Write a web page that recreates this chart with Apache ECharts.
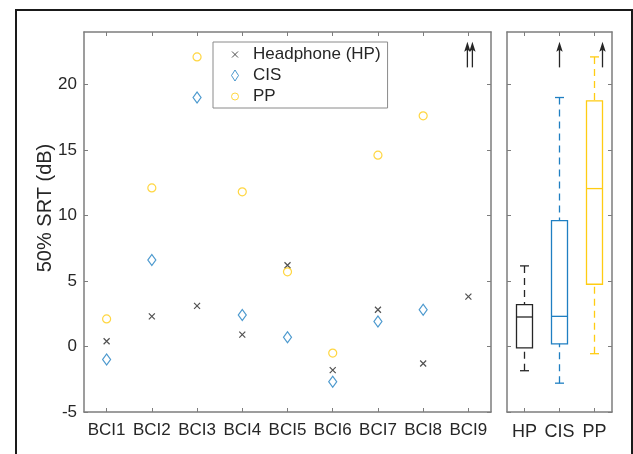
<!DOCTYPE html>
<html><head><meta charset="utf-8">
<script src="https://cdn.jsdelivr.net/npm/echarts@6/dist/echarts.min.js"></script>
<style>html,body{margin:0;padding:0;background:#fff}#c{width:633px;height:454px}</style>
</head><body><div id="c"></div><script>
// ---- data ----
const categories = ['BCI1','BCI2','BCI3','BCI4','BCI5','BCI6','BCI7','BCI8','BCI9'];
const hpValues  = [0.4, 2.3, 3.1, 0.9, 6.2, -1.8, 2.8, -1.3, 3.8];
const cisValues = [-1.0, 6.6, 19.0, 2.4, 0.7, -2.7, 1.9, 2.8, '-'];
const ppValues  = [2.1, 12.1, 22.1, 11.8, 5.7, -0.5, 14.6, 17.6, '-'];
const yTicks = [-5, 0, 5, 10, 15, 20];
const boxCategories = ['HP','CIS','PP'];
const boxMin    = [-1.85, -2.8, -0.55];
const boxQ1     = [-0.1, 0.2, 4.75];
const boxMedian = [2.25, 2.3, 12.05];
const boxQ3     = [3.2, 9.6, 18.75];
const boxMax    = [6.15, 19.0, 22.1];
// values above the axis range, marked with arrows
const offScaleLeft  = [['BCI9','CIS'], ['BCI9','PP']];
const offScaleRight = [['CIS','CIS'], ['PP','PP']];

// ---- styles ----
const C = {HP:'#262626', CIS:'#1f7fc2', PP:'#ffcc12'};
const axisGray = '#7d7d7d';
const txt = '#262626';
const FONT = 'Liberation Sans, Arial, Helvetica, sans-serif';

const chart = echarts.init(document.getElementById('c'), null, {renderer:'canvas'});

function catAxis(grid, data, pos, show, fs, margin){
  return {
    type:'category', gridIndex:grid, data:data, position:pos,
    axisLine:{show:true, onZero:false, lineStyle:{color:axisGray, width:1.5}},
    axisTick:{show:true, inside:true, alignWithLabel:true, interval:0, length:4, lineStyle:{color:axisGray, width:1}},
    axisLabel:{show:show, interval:0, fontSize:fs, fontFamily:FONT, color:txt, margin:margin},
    splitLine:{show:false}
  };
}
function valAxis(grid, pos, show){
  return {
    type:'value', gridIndex:grid, position:pos, min:-5, max:24, interval:5,
    axisLine:{show:true, onZero:false, lineStyle:{color:axisGray, width:1.5}},
    axisTick:{show:true, inside:true, length:4, customValues:yTicks, lineStyle:{color:axisGray, width:1}},
    axisLabel:{show:show, fontSize:17, fontFamily:FONT, color:txt, margin:7, customValues:yTicks},
    splitLine:{show:false}
  };
}

const crossPath = 'path://M0,0L10,10M10,0L0,10';
const legCross = 'path://M0,0L0,0M11,11L11,11M2.5,2.5L8.5,8.5M8.5,2.5L2.5,8.5';
const legDiamond = 'path://M3.5,0L7,5.5L3.5,11L0,5.5Z';
const legCircle = 'path://M0,0L0,0M11,11L11,11M2,5.5A3.5,3.5,0,1,1,9,5.5A3.5,3.5,0,1,1,2,5.5Z';

function arrowRender(offsets){
  return function(params, api){
    const x0 = api.coord([api.value(0), 0])[0] + offsets[api.value(1)];
    const tip = api.coord([0, 23.25])[1];
    const base = api.coord([0, 21.3])[1];
    return {type:'group', children:[
      {type:'line', shape:{x1:x0, y1:base, x2:x0, y2:tip+6}, style:{stroke:C.HP, lineWidth:1.3}},
      {type:'polygon', shape:{points:[[x0,tip],[x0+3.2,tip+10],[x0,tip+8],[x0-3.2,tip+10]]}, style:{fill:C.HP}}
    ]};
  };
}

const boxData = boxCategories.map((c,i)=>[i, boxMin[i], boxQ1[i], boxMedian[i], boxQ3[i], boxMax[i]]);

const option = {
  animation:false,
  grid:[
    {left:84, top:32, width:407, height:380},
    {left:507, top:32, width:105, height:380}
  ],
  xAxis:[
    catAxis(0, categories, 'bottom', true, 17, 10),
    catAxis(0, categories, 'top', false, 17, 10),
    catAxis(1, boxCategories, 'bottom', true, 18, 11),
    catAxis(1, boxCategories, 'top', false, 18, 11)
  ],
  yAxis:[
    valAxis(0, 'left', true),
    valAxis(0, 'right', false),
    valAxis(1, 'left', false),
    valAxis(1, 'right', false)
  ],
  legend:{
    orient:'vertical', left:213, top:42, padding:[4,7,3,14], itemGap:4,
    itemWidth:26, itemHeight:11, backgroundColor:'#fff',
    borderColor:'#8a8a8a', borderWidth:1, borderRadius:0,
    textStyle:{fontSize:17, fontFamily:FONT, color:txt},
    itemStyle:{borderWidth:1},
    data:[
      {name:'Headphone (HP)', icon:legCross, itemStyle:{color:'none', borderColor:C.HP, borderWidth:1}},
      {name:'CIS', icon:legDiamond, itemStyle:{color:'none', borderColor:C.CIS, borderWidth:1}},
      {name:'PP', icon:legCircle, itemStyle:{color:'none', borderColor:C.PP, borderWidth:1}}
    ]
  },
  graphic:[
    {type:'rect', shape:{x:16, y:10, width:616, height:470}, style:{fill:'none', stroke:'#1a1a1a', lineWidth:2}, z:100},
    {type:'text', x:45, y:208, rotation:Math.PI/2,
     style:{text:'50% SRT (dB)', fontSize:20, fontFamily:FONT, fill:txt, align:'center', verticalAlign:'middle'}}
  ],
  series:[
    {name:'Headphone (HP)', type:'scatter', xAxisIndex:0, yAxisIndex:0, data:hpValues,
     symbol:crossPath, symbolSize:6, itemStyle:{color:'none', borderColor:C.HP, borderWidth:1.2}},
    {name:'CIS', type:'scatter', xAxisIndex:0, yAxisIndex:0, data:cisValues,
     symbol:'diamond', symbolSize:[8,11], itemStyle:{color:'none', borderColor:C.CIS, borderWidth:1.2}},
    {name:'PP', type:'scatter', xAxisIndex:0, yAxisIndex:0, data:ppValues,
     symbol:'circle', symbolSize:8, itemStyle:{color:'none', borderColor:C.PP, borderWidth:1.2}},
    {type:'custom', xAxisIndex:0, yAxisIndex:0,
     data:offScaleLeft.map(d=>[categories.indexOf(d[0]), d[1]==='CIS'?0:1]),
     renderItem:arrowRender([-1, 4]), silent:true},
    {type:'custom', xAxisIndex:2, yAxisIndex:2,
     data:offScaleRight.map(d=>[boxCategories.indexOf(d[0]), d[1]==='CIS'?0:1]),
     renderItem:arrowRender([0, 8]), silent:true},
    {type:'custom', xAxisIndex:2, yAxisIndex:2, data:boxData, silent:true,
     renderItem:function(params, api){
       const i = api.value(0);
       const col = C[boxCategories[i]];
       const x = api.coord([i, 0])[0];
       const y = k => api.coord([i, api.value(k)])[1];
       const yMin=y(1), yQ1=y(2), yMed=y(3), yQ3=y(4), yMax=y(5);
       const hw=8, cw=4.5, lw=1.3;
       const dash={stroke:col, lineWidth:lw, lineDash:[7,5]};
       const solid={stroke:col, lineWidth:lw};
       return {type:'group', children:[
         {type:'line', shape:{x1:x,y1:yMax,x2:x,y2:yQ3}, style:dash},
         {type:'line', shape:{x1:x,y1:yMin,x2:x,y2:yQ1}, style:dash},
         {type:'line', shape:{x1:x-cw,y1:yMax,x2:x+cw,y2:yMax}, style:solid},
         {type:'line', shape:{x1:x-cw,y1:yMin,x2:x+cw,y2:yMin}, style:solid},
         {type:'rect', shape:{x:x-hw,y:yQ3,width:2*hw,height:yQ1-yQ3}, style:{stroke:col, fill:'none', lineWidth:lw}},
         {type:'line', shape:{x1:x-hw,y1:yMed,x2:x+hw,y2:yMed}, style:solid}
       ]};
     }}
  ]
};
chart.setOption(option);
</script></body></html>
